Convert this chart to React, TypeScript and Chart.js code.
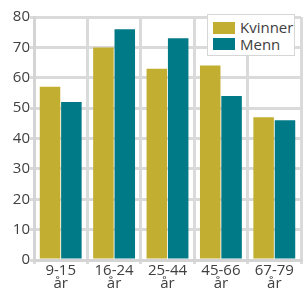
import React, { useEffect, useRef } from "react";
import { Chart, registerables } from "chart.js";
Chart.register(...registerables);

const categories: string[][] = [["9-15", "år"], ["16-24", "år"], ["25-44", "år"], ["45-66", "år"], ["67-79", "år"]];
const kvinner = [57, 70, 63, 64, 47];
const menn = [52, 76, 73, 54, 46];
const seriesNames = ["Kvinner", "Menn"];
const colors = ["#c2ae31", "#007a87"];

export default function App() {
  const ref = useRef<HTMLCanvasElement>(null);
  useEffect(() => {
    document.body.style.margin = "0";
    const chart = new Chart(ref.current!, {
      type: "bar",
      data: {
        labels: categories,
        datasets: [
          { label: seriesNames[0], data: kvinner, backgroundColor: colors[0], borderWidth: 0 },
          { label: seriesNames[1], data: menn, backgroundColor: colors[1], borderWidth: 0 },
        ],
      },
      options: {
        animation: false,
        responsive: false,
        maintainAspectRatio: false,
        layout: { padding: { top: 17, right: 3, left: 0, bottom: 0 } },
        datasets: { bar: { barPercentage: 0.96, categoryPercentage: 0.8 } },
        plugins: { legend: { display: false }, tooltip: { enabled: false } },
        scales: {
          x: {
            afterFit: (s: any) => { s.height = 32; },
            grid: { color: "#dadada", lineWidth: 3, tickLength: 4, offset: true },
            border: { color: "#d4d4d4", width: 3 },
            ticks: { color: "#404040", font: { family: "Open Sans", size: 15, lineHeight: 0.88 }, padding: 0, maxRotation: 0 },
          },
          y: {
            min: 0,
            max: 80,
            afterFit: (s: any) => { s.width = 34; },
            ticks: { stepSize: 10, color: "#404040", font: { family: "Open Sans", size: 15 }, padding: 0 },
            grid: { color: "#dadada", lineWidth: 3, tickLength: 4 },
            border: { color: "#d4d4d4", width: 3 },
          },
        },
      },
    });
    return () => chart.destroy();
  }, []);
  return (
    <div style={{ position: "relative", width: 304, height: 292 }}>
      <canvas ref={ref} width={304} height={292} style={{ display: "block" }} />
      <div
        style={{
          position: "absolute",
          left: 207,
          top: 14,
          width: 86,
          height: 40,
          background: "#fff",
          border: "1px solid #d6d6d6",
          fontFamily: "Open Sans",
          fontSize: 15,
          color: "#404040",
        }}
      >
        {seriesNames.map((n, i) => (
          <div key={n} style={{ position: "absolute", left: 5, top: 4 + i * 16.5, height: 17, display: "flex", alignItems: "center" }}>
            <span style={{ display: "inline-block", width: 22, height: 12, background: colors[i], marginRight: 5 }} />
            <span style={{ lineHeight: "17px" }}>{n}</span>
          </div>
        ))}
      </div>
    </div>
  );
}
